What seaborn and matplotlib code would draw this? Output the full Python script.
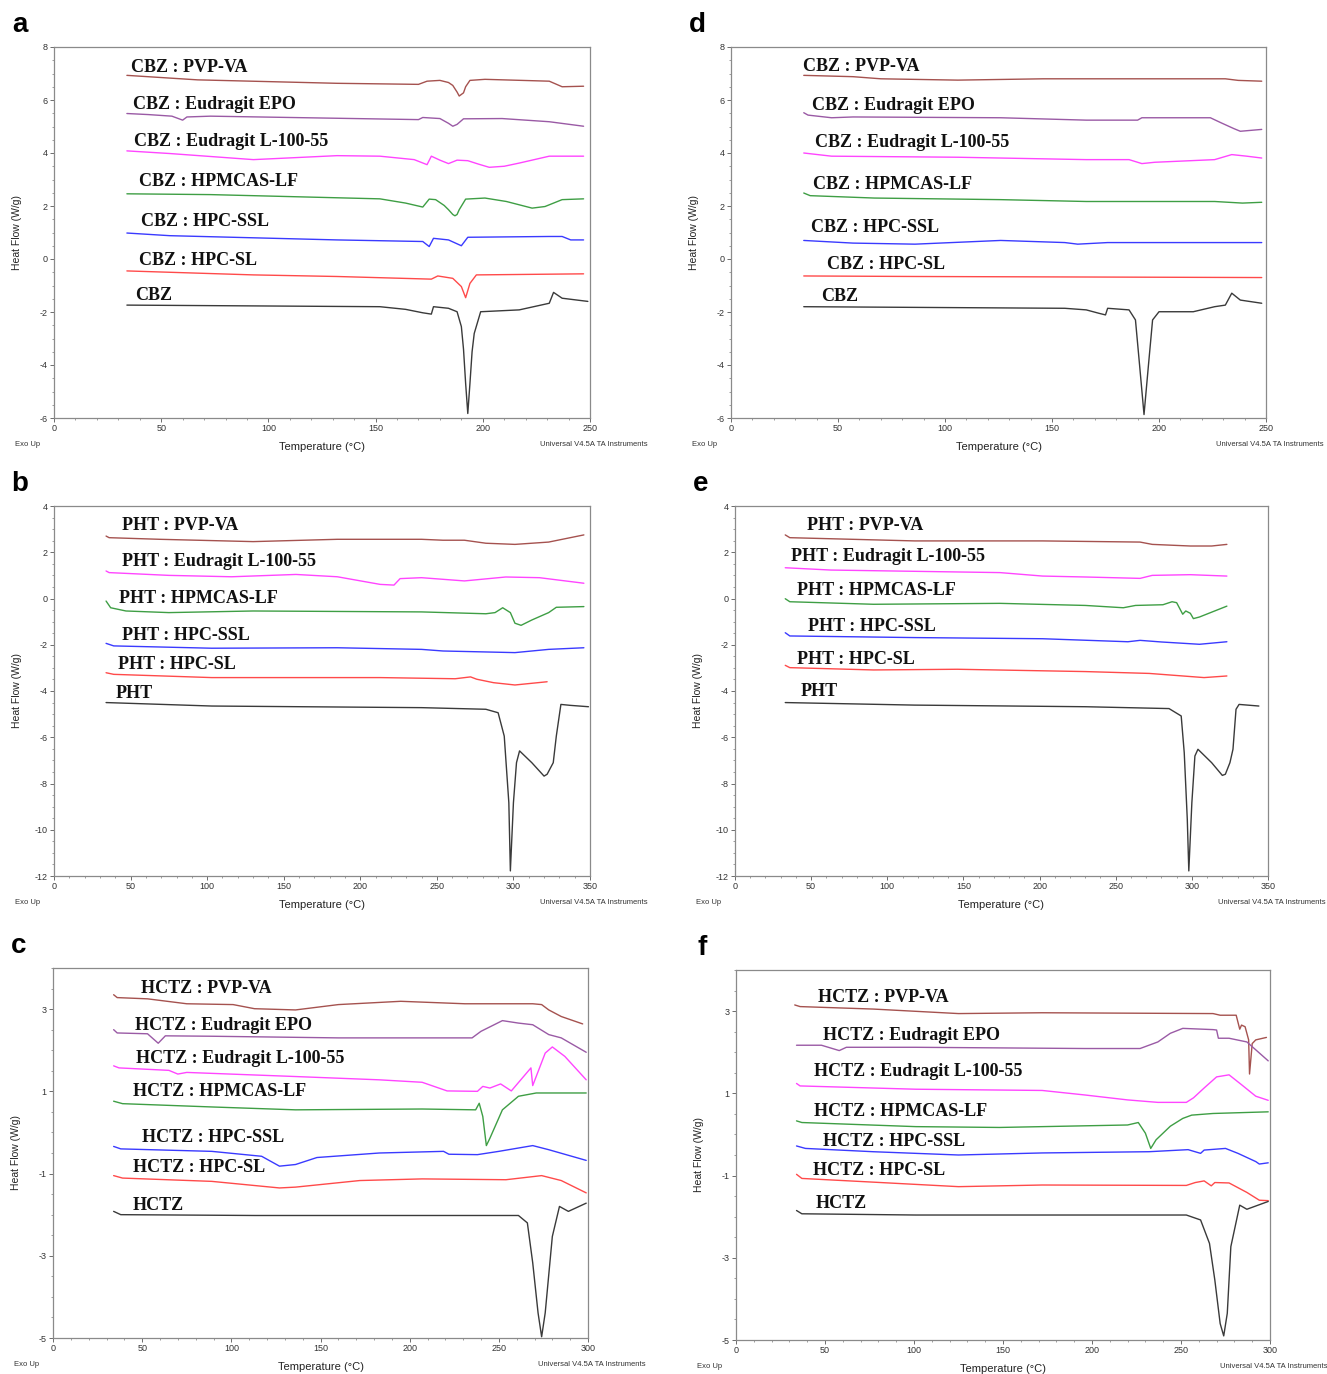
import matplotlib
matplotlib.use("Agg")
import matplotlib.pyplot as plt
from matplotlib.ticker import MultipleLocator
import pandas as pd
import seaborn as sns

# ---- panel a : CBZ, after preparation ----
a_pvpva = [(34, 6.93), (67, 6.76), (132, 6.63), (170, 6.59), (174, 6.71), (180, 6.74), (184, 6.66), (186, 6.55),
           (188, 6.30), (189, 6.15), (191, 6.27), (192, 6.50), (194, 6.74), (201, 6.78), (231, 6.71), (237, 6.50),
           (247, 6.52)]
a_epo = [(34, 5.49), (44, 5.45), (55, 5.39), (58, 5.30), (60, 5.24), (62, 5.36), (73, 5.39), (170, 5.26),
         (172, 5.34), (180, 5.30), (184, 5.12), (186, 5.01), (188, 5.08), (191, 5.29), (209, 5.30), (231, 5.18),
         (247, 5.01)]
a_l100 = [(34, 4.08), (54, 3.98), (93, 3.75), (132, 3.90), (152, 3.88), (168, 3.75), (174, 3.56), (176, 3.88),
          (180, 3.73), (184, 3.60), (188, 3.73), (193, 3.71), (198, 3.58), (203, 3.46), (210, 3.50), (217, 3.62),
          (231, 3.88), (247, 3.88)]
a_hpmcas = [(34, 2.46), (73, 2.43), (152, 2.27), (164, 2.11), (172, 1.96), (175, 2.26), (178, 2.24), (182, 2.02),
            (184, 1.86), (186, 1.68), (187, 1.63), (188, 1.68), (189, 1.86), (192, 2.26), (201, 2.30), (211, 2.17),
            (223, 1.92), (229, 1.98), (237, 2.24), (247, 2.27)]
a_hpcssl = [(34, 0.98), (54, 0.88), (132, 0.72), (172, 0.66), (175, 0.47), (177, 0.78), (184, 0.72), (190, 0.50),
            (193, 0.82), (231, 0.85), (237, 0.85), (241, 0.72), (247, 0.72)]
a_hpcsl = [(34, -0.45), (93, -0.60), (132, -0.66), (176, -0.76), (179, -0.64), (186, -0.73), (190, -1.04),
           (192, -1.46), (194, -0.92), (197, -0.60), (247, -0.56)]
a_drug = [(34, -1.74), (152, -1.80), (164, -1.90), (172, -2.03), (176, -2.08), (177, -1.80), (184, -1.86),
          (188, -1.99), (190, -2.55), (191, -3.40), (192, -4.70), (193, -5.83), (194, -4.70), (195, -3.50),
          (196, -2.81), (199, -1.99), (217, -1.92), (231, -1.67), (233, -1.26), (237, -1.48), (249, -1.60)]

# ---- panel d : CBZ, after storage ----
d_pvpva = [(34, 6.93), (57, 6.88), (70, 6.80), (106, 6.75), (146, 6.80), (231, 6.80), (237, 6.74), (248, 6.71)]
d_epo = [(34, 5.52), (36, 5.43), (47, 5.33), (57, 5.36), (126, 5.33), (166, 5.24), (190, 5.24), (192, 5.33),
         (224, 5.33), (229, 5.14), (235, 4.92), (238, 4.82), (248, 4.89)]
d_l100 = [(34, 4.00), (47, 3.88), (106, 3.84), (166, 3.75), (186, 3.75), (192, 3.60), (198, 3.65), (226, 3.75),
          (234, 3.94), (241, 3.88), (248, 3.81)]
d_hpmcas = [(34, 2.49), (37, 2.39), (67, 2.30), (126, 2.24), (166, 2.17), (226, 2.17), (239, 2.11), (248, 2.14)]
d_hpcssl = [(34, 0.70), (57, 0.60), (86, 0.56), (126, 0.70), (156, 0.62), (162, 0.56), (176, 0.62), (248, 0.62)]
d_hpcsl = [(34, -0.64), (86, -0.66), (248, -0.70)]
d_drug = [(34, -1.80), (156, -1.86), (166, -1.92), (172, -2.05), (175, -2.11), (176, -1.86), (186, -1.92),
          (189, -2.30), (191, -4.07), (193, -5.87), (195, -4.07), (197, -2.30), (200, -1.99), (216, -1.99),
          (226, -1.80), (231, -1.74), (234, -1.29), (238, -1.55), (248, -1.67)]

# ---- panel b : PHT, after preparation ----
b_pvpva = [(34, 2.70), (36, 2.63), (69, 2.56), (130, 2.46), (185, 2.56), (240, 2.56), (254, 2.52), (268, 2.52),
           (282, 2.39), (301, 2.34), (323, 2.44), (346, 2.75)]
b_l100 = [(34, 1.19), (36, 1.12), (75, 1.00), (116, 0.94), (158, 1.04), (185, 0.94), (213, 0.61), (222, 0.58),
          (226, 0.86), (240, 0.90), (268, 0.76), (295, 0.93), (317, 0.90), (346, 0.66)]
b_hpmcas = [(34, -0.11), (37, -0.40), (47, -0.54), (75, -0.61), (130, -0.54), (240, -0.58), (282, -0.66),
            (288, -0.61), (293, -0.40), (298, -0.61), (301, -1.07), (305, -1.16), (312, -0.93), (323, -0.61),
            (328, -0.38), (346, -0.35)]
b_hpcssl = [(34, -1.94), (39, -2.05), (103, -2.15), (185, -2.13), (240, -2.20), (254, -2.27), (301, -2.34),
            (323, -2.20), (346, -2.13)]
b_hpcsl = [(34, -3.21), (39, -3.28), (103, -3.42), (213, -3.42), (262, -3.47), (272, -3.39), (276, -3.49),
           (287, -3.64), (301, -3.74), (322, -3.60)]
b_drug = [(34, -4.50), (103, -4.65), (240, -4.72), (282, -4.79), (290, -4.94), (294, -5.95), (297, -8.83),
          (298, -11.78), (300, -8.83), (302, -7.10), (304, -6.59), (312, -7.10), (320, -7.68), (322, -7.60),
          (326, -7.10), (328, -5.95), (331, -4.58), (337, -4.62), (349, -4.68)]

# ---- panel e : PHT, after storage ----
e_pvpva = [(33, 2.75), (36, 2.63), (77, 2.56), (118, 2.49), (202, 2.49), (266, 2.44), (274, 2.34), (299, 2.27),
           (313, 2.27), (323, 2.34)]
e_l100 = [(33, 1.33), (63, 1.23), (174, 1.12), (202, 0.97), (230, 0.93), (266, 0.87), (274, 1.00), (299, 1.03),
          (323, 0.97)]
e_hpmcas = [(33, -0.01), (36, -0.14), (91, -0.25), (174, -0.21), (230, -0.30), (255, -0.40), (263, -0.30),
            (281, -0.27), (287, -0.14), (290, -0.18), (294, -0.68), (296, -0.54), (299, -0.64), (301, -0.87),
            (305, -0.80), (323, -0.33)]
e_hpcssl = [(33, -1.48), (36, -1.62), (118, -1.69), (202, -1.74), (258, -1.87), (266, -1.81), (280, -1.88),
            (305, -1.98), (323, -1.87)]
e_hpcsl = [(33, -2.89), (36, -2.99), (91, -3.09), (146, -3.06), (230, -3.16), (272, -3.24), (308, -3.42),
           (323, -3.35)]
e_drug = [(33, -4.50), (118, -4.61), (230, -4.68), (285, -4.76), (293, -5.08), (295, -6.67), (297, -9.55),
          (298, -11.78), (300, -8.83), (302, -6.81), (304, -6.52), (313, -7.10), (320, -7.65), (322, -7.60),
          (325, -7.10), (327, -6.52), (329, -4.79), (331, -4.58), (344, -4.65)]

# ---- panel c : HCTZ, after preparation ----
c_pvpva = [(34, 3.35), (36, 3.28), (53, 3.25), (75, 3.13), (101, 3.11), (113, 3.01), (136, 2.98), (160, 3.11),
           (195, 3.19), (231, 3.13), (269, 3.13), (274, 3.11), (278, 2.98), (285, 2.82), (297, 2.64)]
c_epo = [(34, 2.50), (36, 2.42), (53, 2.40), (59, 2.17), (63, 2.35), (89, 2.34), (160, 2.30), (235, 2.30),
         (240, 2.46), (252, 2.72), (261, 2.66), (269, 2.62), (278, 2.38), (285, 2.30), (299, 1.95)]
c_l100 = [(34, 1.62), (37, 1.57), (65, 1.51), (70, 1.42), (75, 1.46), (136, 1.36), (183, 1.28), (207, 1.22),
          (221, 1.01), (238, 1.00), (241, 1.12), (245, 1.08), (251, 1.18), (257, 1.01), (268, 1.57), (269, 1.14),
          (276, 1.93), (280, 2.08), (287, 1.85), (299, 1.28)]
c_hpmcas = [(34, 0.76), (39, 0.70), (89, 0.62), (136, 0.55), (207, 0.57), (237, 0.55), (239, 0.71), (241, 0.39),
            (243, -0.32), (245, -0.14), (252, 0.55), (261, 0.88), (271, 0.96), (299, 0.96)]
c_hpcssl = [(34, -0.34), (38, -0.40), (89, -0.46), (117, -0.58), (127, -0.82), (136, -0.78), (148, -0.61),
            (183, -0.50), (219, -0.46), (222, -0.53), (238, -0.54), (250, -0.46), (269, -0.32), (278, -0.42),
            (299, -0.68)]
c_hpcsl = [(34, -1.05), (39, -1.11), (89, -1.19), (127, -1.35), (136, -1.33), (172, -1.17), (207, -1.13),
           (254, -1.15), (274, -1.05), (285, -1.17), (299, -1.47)]
c_drug = [(34, -1.92), (38, -2.00), (113, -2.02), (261, -2.02), (266, -2.20), (269, -3.17), (272, -4.39),
          (274, -4.97), (276, -4.39), (280, -2.53), (284, -1.80), (289, -1.92), (299, -1.72)]

# ---- panel f : HCTZ, after storage ----
f_pvpva = [(33, 3.15), (36, 3.11), (77, 3.05), (125, 2.94), (172, 2.96), (268, 2.94), (272, 2.90), (281, 2.90),
           (283, 2.56), (284, 2.66), (286, 2.62), (288, 2.30), (288.5, 1.47), (290, 2.21), (292, 2.30), (298, 2.36)]
f_epo = [(34, 2.17), (48, 2.17), (58, 2.04), (62, 2.12), (101, 2.12), (196, 2.09), (227, 2.09), (237, 2.25),
         (244, 2.46), (251, 2.58), (268, 2.55), (270, 2.54), (271, 2.34), (277, 2.34), (287, 2.25), (299, 1.79)]
f_l100 = [(34, 1.24), (36, 1.18), (101, 1.10), (172, 1.07), (196, 0.96), (220, 0.84), (237, 0.78), (253, 0.78),
          (257, 0.89), (263, 1.13), (270, 1.40), (277, 1.45), (284, 1.21), (292, 0.93), (299, 0.83)]
f_hpmcas = [(34, 0.33), (37, 0.29), (101, 0.19), (148, 0.17), (220, 0.23), (226, 0.29), (230, 0.03), (233, -0.34),
            (236, -0.13), (244, 0.20), (251, 0.39), (256, 0.47), (268, 0.51), (299, 0.55)]
f_hpcssl = [(34, -0.28), (39, -0.34), (77, -0.42), (125, -0.50), (172, -0.45), (232, -0.42), (254, -0.37),
            (261, -0.46), (263, -0.38), (275, -0.34), (282, -0.46), (292, -0.66), (294, -0.72), (299, -0.69)]
f_hpcsl = [(34, -0.97), (37, -1.07), (77, -1.16), (125, -1.27), (172, -1.23), (253, -1.24), (258, -1.17),
           (263, -1.13), (267, -1.25), (269, -1.17), (277, -1.18), (287, -1.41), (294, -1.60), (299, -1.61)]
f_drug = [(34, -1.85), (37, -1.93), (101, -1.96), (253, -1.96), (261, -2.08), (266, -2.65), (269, -3.54),
          (272, -4.60), (274, -4.90), (276, -4.35), (278, -2.73), (283, -1.72), (287, -1.82), (299, -1.63)]

polymers_cbz = ["PVP-VA", "Eudragit EPO", "Eudragit L-100-55", "HPMCAS-LF", "HPC-SSL", "HPC-SL"]
polymers_pht = ["PVP-VA", "Eudragit L-100-55", "HPMCAS-LF", "HPC-SSL", "HPC-SL"]

colors = {"PVP-VA": "#a5524f", "Eudragit EPO": "#9a5aa5", "Eudragit L-100-55": "#ff45ff",
          "HPMCAS-LF": "#3e9e44", "HPC-SSL": "#3a3aff", "HPC-SL": "#ff4a4a", "drug": "#3a3a3a"}

# label anchor positions (temperature, heat flow) for each curve name
a_labels = [(36, 7.22), (37, 5.83), (37.4, 4.45), (39.8, 2.94), (40.7, 1.42), (39.8, -0.07), (37.8, -1.38)]
d_labels = [(33.8, 7.27), (37.8, 5.79), (39.1, 4.38), (38.4, 2.83), (37.2, 1.19), (44.7, -0.20), (42.1, -1.40)]
b_labels = [(44.6, 3.17), (44.6, 1.62), (42.7, 0.0), (44.6, -1.59), (41.9, -2.84), (40.5, -4.11)]
e_labels = [(47.3, 3.17), (37, 1.83), (40.4, 0.36), (48.2, -1.23), (40.4, -2.63), (43.2, -4.04)]
c_labels = [(49.4, 3.5), (45.9, 2.59), (46.3, 1.80), (44.7, 0.99), (49.9, -0.13), (44.7, -0.85), (44.7, -1.77)]
f_labels = [(46.3, 3.32), (48.7, 2.40), (43.9, 1.52), (43.9, 0.56), (48.7, -0.17), (43.4, -0.88), (44.6, -1.69)]

W, H = 1327, 1374

sns.set_style("white")
plt.rcParams["font.family"] = ["Liberation Sans", "DejaVu Sans"]
plt.rcParams["axes.unicode_minus"] = False

fig = plt.figure(figsize=(W / 100, H / 100), dpi=100)

# letter, drug, curves, polymers, labels, xmax, ylim, yticks, box(left, right, top, bottom px)
panels = [
    ("a", "CBZ", [a_pvpva, a_epo, a_l100, a_hpmcas, a_hpcssl, a_hpcsl, a_drug], polymers_cbz, a_labels,
     250, (-6, 8), range(-6, 9, 2), (54, 590, 47, 418)),
    ("d", "CBZ", [d_pvpva, d_epo, d_l100, d_hpmcas, d_hpcssl, d_hpcsl, d_drug], polymers_cbz, d_labels,
     250, (-6, 8), range(-6, 9, 2), (731, 1266, 47, 418)),
    ("b", "PHT", [b_pvpva, b_l100, b_hpmcas, b_hpcssl, b_hpcsl, b_drug], polymers_pht, b_labels,
     350, (-12, 4), range(-12, 5, 2), (54, 590, 506, 876)),
    ("e", "PHT", [e_pvpva, e_l100, e_hpmcas, e_hpcssl, e_hpcsl, e_drug], polymers_pht, e_labels,
     350, (-12, 4), range(-12, 5, 2), (735, 1268, 506, 876)),
    ("c", "HCTZ", [c_pvpva, c_epo, c_l100, c_hpmcas, c_hpcssl, c_hpcsl, c_drug], polymers_cbz, c_labels,
     300, (-5, 4), range(-5, 4, 2), (53, 588, 968, 1338)),
    ("f", "HCTZ", [f_pvpva, f_epo, f_l100, f_hpmcas, f_hpcssl, f_hpcsl, f_drug], polymers_cbz, f_labels,
     300, (-5, 4), range(-5, 4, 2), (736, 1270, 970, 1340)),
]

for letter, drug, curves, polys, labels, xmax, ylim, yticks, box in panels:
    l, r, t, b = box
    ax = fig.add_axes([l / W, 1 - b / H, (r - l) / W, (b - t) / H])
    names = polys + ["drug"]
    rows = []
    for name, pts in zip(names, curves):
        for i, (T, hf) in enumerate(pts):
            rows.append({"sample": name, "order": i, "T": T, "hf": hf})
    df = pd.DataFrame(rows)
    sns.lineplot(data=df, x="T", y="hf", hue="sample", palette=colors, sort=False,
                 estimator=None, units="sample", lw=1.0, legend=False, ax=ax)
    for name, (tx, ty) in zip(names, labels):
        txt = drug if name == "drug" else f"{drug} : {name}"
        ax.text(tx, ty, txt, family="Liberation Serif", weight="bold", fontsize=13,
                color="#111111", ha="left", va="center")
    ax.set_xlim(0, xmax)
    ax.set_ylim(*ylim)
    ax.set_xticks(range(0, xmax + 1, 50))
    ax.set_yticks(list(yticks))
    ax.xaxis.set_minor_locator(MultipleLocator(10))
    ax.yaxis.set_minor_locator(MultipleLocator(0.5))
    ax.tick_params(axis="both", which="major", direction="out", length=3, width=0.6,
                   labelsize=6.5, colors="#555555", labelcolor="#333333", pad=1.5,
                   bottom=True, left=True)
    ax.tick_params(axis="both", which="minor", direction="out", length=1.5, width=0.5,
                   colors="#777777", bottom=True, left=True)
    for sp in ax.spines.values():
        sp.set_color("#8a8a8a")
        sp.set_linewidth(0.9)
    ax.set_xlabel("")
    ax.set_ylabel("")
    # axis captions in figure pixel space
    fig.text((l + r) / 2 / W, 1 - (b + 29) / H, "Temperature (°C)", ha="center", va="center",
             fontsize=8, color="#222222")
    fig.text((l - 37) / W, 1 - (t + b) / 2 / H, "Heat Flow (W/g)", ha="center", va="center",
             rotation=90, fontsize=7.5, color="#222222")
    fig.text((l - 39) / W, 1 - (b + 27) / H, "Exo Up", ha="left", va="center",
             fontsize=5.5, color="#333333")
    fig.text((r + 58) / W, 1 - (b + 27) / H, "Universal V4.5A TA Instruments", ha="right",
             va="center", fontsize=5.5, color="#333333")
    fig.text((l - 34) / W, 1 - (t - 22) / H, letter, ha="center", va="center",
             fontsize=20, weight="bold", color="black")

fig.savefig("out.png", dpi=100, facecolor="white")
